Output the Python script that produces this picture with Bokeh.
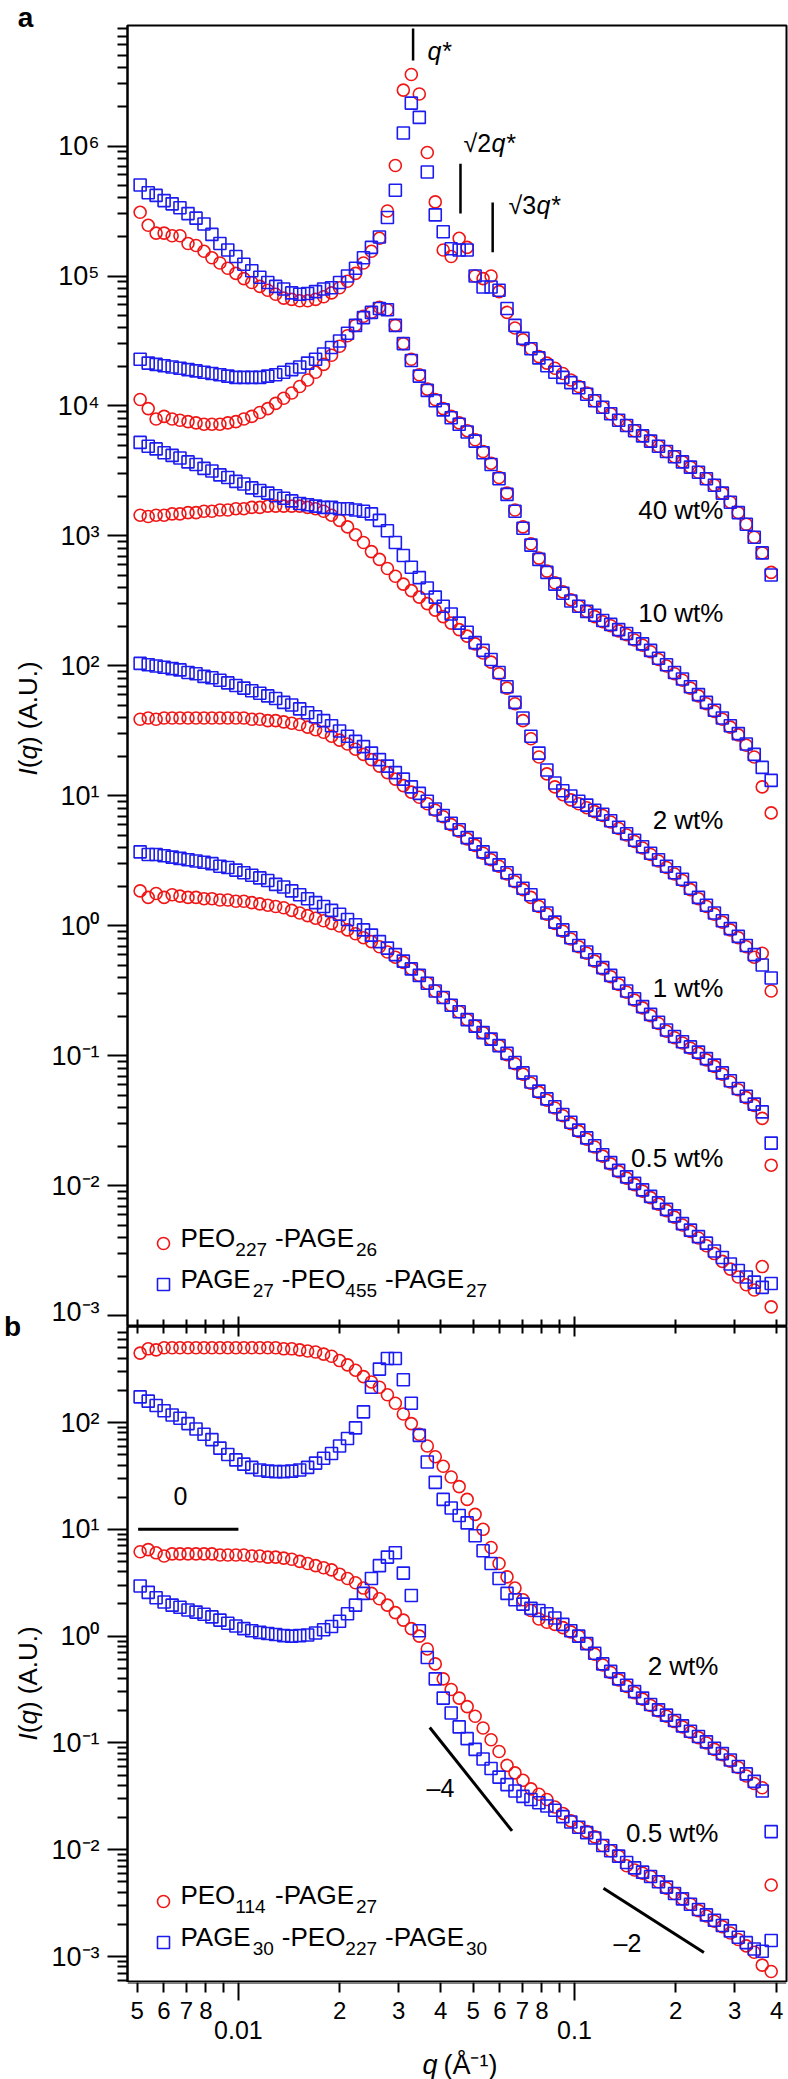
import math
from bokeh.plotting import figure
from bokeh.layouts import column, row
from bokeh.models import (FixedTicker, LogAxis, Legend, LegendItem, Label, Range1d,
                          ColumnDataSource, CustomJSTickFormatter)
from bokeh.core.properties import value
from bokeh.embed import file_html
from bokeh.resources import INLINE

q = [0.00510, 0.00539, 0.00569, 0.00601, 0.00635, 0.00670, 0.00708, 0.00748, 0.00790, 0.00834,
     0.00881, 0.00930, 0.00983, 0.01038, 0.01096, 0.01158, 0.01223, 0.01291, 0.01364, 0.01441,
     0.01522, 0.01607, 0.01697, 0.01793, 0.01893, 0.02000, 0.02112, 0.02231, 0.02356, 0.02488,
     0.02628, 0.02776, 0.02931, 0.03096, 0.03270, 0.03454, 0.03648, 0.03853, 0.04069, 0.04297,
     0.04539, 0.04794, 0.05063, 0.05347, 0.05648, 0.05965, 0.06300, 0.06654, 0.07028, 0.07422,
     0.07839, 0.08280, 0.08745, 0.09236, 0.09755, 0.1030, 0.1088, 0.1149, 0.1214, 0.1282,
     0.1354, 0.1430, 0.1510, 0.1595, 0.1685, 0.1779, 0.1879, 0.1985, 0.2096, 0.2214,
     0.2339, 0.2470, 0.2609, 0.2755, 0.2910, 0.3073, 0.3246, 0.3428, 0.3621, 0.3850]

# panel a : PEO227-PAGE26 (red) and PAGE27-PEO455-PAGE27 (blue)
a40_red = [5.49, 5.39, 5.33, 5.33, 5.31, 5.31, 5.25, 5.235, 5.19, 5.14,
           5.10, 5.06, 5.02, 4.98, 4.95, 4.92, 4.89, 4.86, 4.83, 4.82,
           4.81, 4.81, 4.82, 4.84, 4.87, 4.91, 4.96, 5.02, 5.10, 5.19,
           5.29, 5.50, 5.85, 6.43, 6.55, 6.40, 5.95, 5.57, 5.20, 5.15,
           5.29, 5.22, 5.00, 4.98, 5.00, 4.88, 4.72, 4.60, 4.51, 4.44,
           4.38, 4.33, 4.29, 4.25, 4.20, 4.15, 4.10, 4.04, 3.99, 3.94,
           3.89, 3.85, 3.81, 3.77, 3.73, 3.69, 3.65, 3.61, 3.57, 3.53,
           3.49, 3.44, 3.39, 3.33, 3.26, 3.18, 3.09, 2.99, 2.87, 2.72]
a40_blue = [5.70, 5.64, 5.62, 5.58, 5.555, 5.525, 5.48, 5.445, 5.40, 5.32,
            5.25, 5.20, 5.15, 5.09, 5.04, 4.99, 4.95, 4.92, 4.90, 4.87,
            4.86, 4.865, 4.88, 4.90, 4.91, 4.95, 5.00, 5.06, 5.14, 5.22,
            5.30, 5.45, 5.66, 6.10, 6.33, 6.22, 5.80, 5.47, 5.34, 5.21,
            5.20, 5.20, 5.00, 4.915, 4.915, 4.89, 4.75, 4.62, 4.52, 4.44,
            4.37, 4.31, 4.26, 4.22, 4.18, 4.14, 4.09, 4.04, 3.99, 3.94,
            3.89, 3.85, 3.81, 3.77, 3.73, 3.69, 3.65, 3.61, 3.57, 3.53,
            3.49, 3.44, 3.39, 3.33, 3.26, 3.18, 3.09, 2.99, 2.87, 2.70]
a10_red = [4.05, 3.98, 3.90, 3.92, 3.90, 3.89, 3.88, 3.87, 3.86, 3.86,
           3.86, 3.87, 3.88, 3.90, 3.92, 3.95, 3.98, 4.02, 4.06, 4.10,
           4.15, 4.20, 4.26, 4.32, 4.39, 4.46, 4.54, 4.62, 4.69, 4.72,
           4.76, 4.74, 4.62, 4.48, 4.36, 4.24, 4.13, 4.05, 3.98, 3.92,
           3.87, 3.81, 3.74, 3.65, 3.56, 3.45, 3.33, 3.20, 3.07, 2.94,
           2.83, 2.73, 2.64, 2.57, 2.51, 2.46, 2.42, 2.38, 2.34, 2.31,
           2.27, 2.24, 2.20, 2.16, 2.11, 2.05, 2.00, 1.94, 1.89, 1.83,
           1.77, 1.71, 1.65, 1.59, 1.53, 1.47, 1.39, 1.30, 1.07, 0.87]
a10_blue = [4.36, 4.33, 4.32, 4.31, 4.30, 4.29, 4.28, 4.27, 4.26, 4.25,
            4.24, 4.23, 4.22, 4.22, 4.22, 4.22, 4.23, 4.24, 4.26, 4.28,
            4.30, 4.33, 4.36, 4.40, 4.45, 4.50, 4.56, 4.62, 4.68, 4.72,
            4.75, 4.74, 4.62, 4.48, 4.35, 4.23, 4.12, 4.04, 3.97, 3.91,
            3.86, 3.80, 3.73, 3.64, 3.55, 3.44, 3.32, 3.19, 3.06, 2.93,
            2.82, 2.72, 2.63, 2.56, 2.50, 2.46, 2.42, 2.39, 2.35, 2.32,
            2.28, 2.25, 2.21, 2.17, 2.12, 2.06, 2.01, 1.95, 1.90, 1.84,
            1.78, 1.72, 1.66, 1.60, 1.54, 1.48, 1.40, 1.32, 1.22, 1.12]
a2_red = [3.16, 3.15, 3.16, 3.16, 3.17, 3.17, 3.18, 3.18, 3.19, 3.19,
          3.20, 3.20, 3.21, 3.21, 3.22, 3.22, 3.23, 3.23, 3.23, 3.23,
          3.23, 3.22, 3.21, 3.19, 3.16, 3.12, 3.07, 3.01, 2.95, 2.88,
          2.82, 2.75, 2.69, 2.63, 2.58, 2.53, 2.48, 2.43, 2.38, 2.33,
          2.28, 2.23, 2.17, 2.10, 2.03, 1.94, 1.83, 1.71, 1.58, 1.44,
          1.30, 1.17, 1.07, 1.01, 0.97, 0.94, 0.91, 0.88, 0.85, 0.80,
          0.75, 0.70, 0.65, 0.60, 0.55, 0.50, 0.45, 0.40, 0.35, 0.28,
          0.21, 0.15, 0.09, 0.03, -0.03, -0.09, -0.16, -0.24, -0.21, -0.50]
a2_blue = [3.72, 3.69, 3.67, 3.64, 3.62, 3.60, 3.57, 3.55, 3.52, 3.50,
           3.47, 3.45, 3.42, 3.40, 3.37, 3.35, 3.33, 3.31, 3.29, 3.27,
           3.25, 3.24, 3.23, 3.22, 3.22, 3.21, 3.21, 3.20, 3.19, 3.17,
           3.12, 3.04, 2.95, 2.85, 2.76, 2.68, 2.60, 2.53, 2.46, 2.40,
           2.33, 2.26, 2.18, 2.12, 2.05, 1.95, 1.84, 1.72, 1.60, 1.46,
           1.33, 1.20, 1.10, 1.04, 1.00, 0.96, 0.93, 0.89, 0.86, 0.81,
           0.76, 0.71, 0.66, 0.61, 0.56, 0.51, 0.46, 0.41, 0.36, 0.29,
           0.22, 0.16, 0.10, 0.04, -0.02, -0.08, -0.15, -0.22, -0.30, -0.40]
a1_red = [1.59, 1.60, 1.59, 1.60, 1.60, 1.60, 1.60, 1.60, 1.60, 1.60,
          1.60, 1.60, 1.60, 1.60, 1.59, 1.59, 1.58, 1.58, 1.57, 1.56,
          1.55, 1.53, 1.51, 1.49, 1.46, 1.43, 1.40, 1.36, 1.32, 1.28,
          1.23, 1.18, 1.13, 1.08, 1.03, 0.99, 0.94, 0.89, 0.84, 0.78,
          0.73, 0.67, 0.62, 0.56, 0.51, 0.46, 0.40, 0.34, 0.28, 0.22,
          0.15, 0.09, 0.02, -0.04, -0.10, -0.16, -0.21, -0.27, -0.33, -0.39,
          -0.45, -0.51, -0.57, -0.63, -0.69, -0.75, -0.81, -0.86, -0.90, -0.94,
          -0.98, -1.03, -1.08, -1.14, -1.20, -1.26, -1.32, -1.38, -1.48, -1.84]
a1_blue = [2.02, 2.01, 2.00, 1.99, 1.98, 1.97, 1.95, 1.94, 1.92, 1.91,
           1.89, 1.87, 1.85, 1.83, 1.81, 1.79, 1.77, 1.75, 1.72, 1.70,
           1.67, 1.64, 1.61, 1.58, 1.54, 1.50, 1.46, 1.42, 1.38, 1.33,
           1.28, 1.23, 1.18, 1.13, 1.07, 1.02, 0.96, 0.90, 0.85, 0.79,
           0.74, 0.68, 0.63, 0.57, 0.52, 0.47, 0.41, 0.35, 0.29, 0.24,
           0.16, 0.10, 0.03, -0.03, -0.09, -0.15, -0.20, -0.26, -0.32, -0.38,
           -0.44, -0.50, -0.56, -0.62, -0.68, -0.74, -0.80, -0.85, -0.89, -0.93,
           -0.97, -1.02, -1.07, -1.13, -1.19, -1.25, -1.31, -1.37, -1.43, -1.67]
a05_red = [0.27, 0.22, 0.25, 0.22, 0.24, 0.23, 0.22, 0.22, 0.21, 0.21,
           0.20, 0.20, 0.19, 0.19, 0.18, 0.17, 0.16, 0.15, 0.14, 0.12,
           0.10, 0.08, 0.06, 0.04, 0.02, 0.00, -0.03, -0.06, -0.09, -0.12,
           -0.16, -0.20, -0.24, -0.28, -0.33, -0.38, -0.44, -0.50, -0.55, -0.61,
           -0.66, -0.72, -0.77, -0.82, -0.87, -0.92, -0.99, -1.06, -1.14, -1.21,
           -1.28, -1.34, -1.40, -1.46, -1.52, -1.58, -1.64, -1.70, -1.77, -1.83,
           -1.89, -1.94, -1.99, -2.04, -2.09, -2.14, -2.19, -2.24, -2.30, -2.35,
           -2.40, -2.46, -2.52, -2.58, -2.64, -2.70, -2.76, -2.80, -2.62, -2.93]
a05_blue = [0.57, 0.55, 0.55, 0.54, 0.53, 0.52, 0.51, 0.50, 0.49, 0.48,
            0.46, 0.45, 0.43, 0.41, 0.39, 0.37, 0.35, 0.32, 0.30, 0.27,
            0.24, 0.21, 0.18, 0.15, 0.12, 0.09, 0.05, 0.01, -0.03, -0.07,
            -0.12, -0.17, -0.22, -0.27, -0.33, -0.38, -0.44, -0.50, -0.55, -0.61,
            -0.66, -0.72, -0.77, -0.82, -0.87, -0.92, -0.98, -1.05, -1.13, -1.20,
            -1.27, -1.33, -1.39, -1.45, -1.51, -1.57, -1.63, -1.69, -1.76, -1.82,
            -1.88, -1.93, -1.98, -2.03, -2.08, -2.13, -2.18, -2.23, -2.29, -2.34,
            -2.39, -2.44, -2.50, -2.55, -2.60, -2.65, -2.70, -2.74, -2.78, -2.75]

# panel b : PEO114-PAGE27 (red) and PAGE30-PEO227-PAGE30 (blue)
b2_red = [2.65, 2.69, 2.68, 2.70, 2.70, 2.70, 2.70, 2.70, 2.70, 2.70,
          2.70, 2.70, 2.70, 2.70, 2.70, 2.70, 2.70, 2.70, 2.69, 2.69,
          2.68, 2.67, 2.66, 2.64, 2.62, 2.58, 2.54, 2.49, 2.43, 2.38,
          2.33, 2.26, 2.18, 2.08, 1.99, 1.89, 1.78, 1.68, 1.59, 1.49,
          1.40, 1.28, 1.14, 1.00, 0.83, 0.68, 0.555, 0.45, 0.34, 0.24,
          0.16, 0.13, 0.11, 0.08, 0.04, 0.00, -0.07, -0.17, -0.27, -0.34,
          -0.41, -0.47, -0.53, -0.59, -0.65, -0.70, -0.75, -0.80, -0.85, -0.90,
          -0.95, -1.00, -1.06, -1.11, -1.17, -1.23, -1.31, -1.38, -1.42, -2.33]
b2_blue = [2.24, 2.20, 2.16, 2.11, 2.07, 2.04, 1.99, 1.94, 1.89, 1.84,
           1.76, 1.70, 1.65, 1.61, 1.58, 1.555, 1.545, 1.54, 1.54, 1.545,
           1.555, 1.58, 1.62, 1.665, 1.71, 1.78, 1.85, 1.95, 2.10, 2.33,
           2.50, 2.60, 2.60, 2.40, 2.18, 1.88, 1.63, 1.44, 1.28, 1.20,
           1.13, 1.06, 0.94, 0.80, 0.68, 0.54, 0.40, 0.34, 0.30, 0.26,
           0.24, 0.21, 0.17, 0.11, 0.05, 0.00, -0.07, -0.16, -0.26, -0.33,
           -0.40, -0.46, -0.52, -0.58, -0.64, -0.69, -0.74, -0.79, -0.84, -0.89,
           -0.94, -0.99, -1.05, -1.10, -1.16, -1.22, -1.29, -1.36, -1.45, -1.83]
b05_red = [0.79, 0.81, 0.78, 0.75, 0.77, 0.77, 0.77, 0.77, 0.77, 0.77,
           0.76, 0.76, 0.76, 0.76, 0.75, 0.75, 0.74, 0.74, 0.73, 0.72,
           0.70, 0.68, 0.66, 0.64, 0.62, 0.58, 0.54, 0.50, 0.45, 0.40,
           0.35, 0.29, 0.22, 0.15, 0.07, 0.00, -0.12, -0.26, -0.40, -0.50,
           -0.58, -0.66, -0.75, -0.86, -0.97, -1.08, -1.21, -1.28, -1.35, -1.43,
           -1.48, -1.53, -1.60, -1.66, -1.73, -1.79, -1.83, -1.88, -1.96, -2.01,
           -2.06, -2.15, -2.19, -2.22, -2.25, -2.30, -2.36, -2.41, -2.46, -2.51,
           -2.57, -2.62, -2.67, -2.72, -2.78, -2.84, -2.90, -2.96, -3.08, -3.14]
b05_blue = [0.47, 0.41, 0.36, 0.32, 0.29, 0.27, 0.245, 0.225, 0.205, 0.18,
            0.15, 0.12, 0.095, 0.07, 0.05, 0.035, 0.025, 0.015, 0.005, 0.00,
            0.005, 0.01, 0.03, 0.06, 0.09, 0.14, 0.21, 0.29, 0.40, 0.54,
            0.66, 0.74, 0.78, 0.59, 0.38, 0.05, -0.20, -0.40, -0.58, -0.72,
            -0.85, -0.96, -1.06, -1.15, -1.24, -1.32, -1.39, -1.45, -1.50, -1.53,
            -1.56, -1.59, -1.63, -1.69, -1.74, -1.79, -1.84, -1.89, -1.96, -2.01,
            -2.06, -2.12, -2.17, -2.21, -2.25, -2.30, -2.35, -2.41, -2.46, -2.51,
            -2.56, -2.61, -2.66, -2.71, -2.76, -2.82, -2.87, -2.93, -2.95, -2.85]

# tick values / labels
x_digit_ticks = [0.005, 0.006, 0.007, 0.008, 0.02, 0.03, 0.04, 0.05, 0.06, 0.07, 0.08, 0.2, 0.3, 0.4]
x_digit_labels = ["5", "6", "7", "8", "2", "3", "4", "5", "6", "7", "8", "2", "3", "4"]
x_decade_ticks = [0.01, 0.1]
x_decade_labels = ["0.01", "0.1"]
x_nine_ticks = [0.009, 0.09]
a_y_major = [1e-3, 1e-2, 1e-1, 1e0, 1e1, 1e2, 1e3, 1e4, 1e5, 1e6]
b_y_major = [1e-3, 1e-2, 1e-1, 1e0, 1e1, 1e2]

# legend texts: (text, is_subscript); " " = word gap
legend_a = [[("PEO", 0), ("227", 1), (" ", 0), ("-PAGE", 0), ("26", 1)],
            [("PAGE", 0), ("27", 1), (" ", 0), ("-PEO", 0), ("455", 1), (" ", 0), ("-PAGE", 0), ("27", 1)]]
legend_b = [[("PEO", 0), ("114", 1), (" ", 0), ("-PAGE", 0), ("27", 1)],
            [("PAGE", 0), ("30", 1), (" ", 0), ("-PEO", 0), ("227", 1), (" ", 0), ("-PAGE", 0), ("30", 1)]]
a_conc = ["40 wt%", "10 wt%", "2 wt%", "1 wt%", "0.5 wt%"]
b_conc = ["2 wt%", "0.5 wt%"]

# guide marks
peak_q = [0.0331, 0.0458, 0.0571]
peak_lo = [4.55e6, 3.03e5, 1.52e5]
peak_hi = [8.0e6, 7.3e5, 3.67e5]
slope0_q, slope0_I = [0.00503, 0.0100], [10.0, 10.0]
slope4_q, slope4_I = [0.0371, 0.0652], [0.1396, 0.01503]
slope2_q, slope2_I = [0.1220, 0.2428], [4.37e-3, 1.09e-3]

# ---------------- styling / layout ----------------
FONT = "Liberation Sans"
RED = "#f01616"
BLUE = "#1c1cf0"
STRIP_W = 48
MAIN_W = 788 - STRIP_W
X_RANGE = (0.004677, 0.4276)
A_YR = (10 ** -3.081, 10 ** 6.927)
B_YR = (10 ** -3.243, 10 ** 2.899)


# page-pixel -> data helpers for annotation placement
def qx(px):
    return 10 ** (-2 + (px - 238) / 336)


def ya(py):
    return 10 ** (6 - (py - 145.5) / 130)


def yb(py):
    return 10 ** (-(py - 1636) / 106.8)


WIDTHS = {'P': .667, 'E': .667, 'O': .778, 'A': .667, 'G': .778, ' ': .278, '-': .333}


def text_w(s, size):
    return sum(WIDTHS.get(c, .556) for c in s) * size


SUP_JS = """
const m = {'-': '\u207b', '0': '\u2070', '1': '\u00b9', '2': '\u00b2', '3': '\u00b3', '4': '\u2074',
           '5': '\u2075', '6': '\u2076', '7': '\u2077', '8': '\u2078', '9': '\u2079'};
const e = Math.round(Math.log10(tick));
let s = '';
for (const c of String(e)) { s += m[c]; }
return '10' + s;
"""
BLANK_JS = "return '';"


def make_panel(height, yr, top, bottom):
    p = figure(width=MAIN_W, height=height, x_axis_type="log", y_axis_type="log",
               x_range=Range1d(*X_RANGE), y_range=Range1d(*yr),
               x_axis_location=None, y_axis_location=None,
               output_backend="svg", toolbar_location=None,
               min_border_left=127 - STRIP_W, min_border_right=2,
               min_border_top=top, min_border_bottom=bottom)
    p.grid.visible = False
    p.outline_line_color = "black"
    p.outline_line_width = 2
    p.outline_line_alpha = 1.0
    p.background_fill_color = "white"
    p.border_fill_color = "white"
    return p


def style_axis(ax):
    ax.axis_line_width = 2
    ax.axis_line_color = "black"
    ax.major_tick_line_width = 2
    ax.minor_tick_line_width = 2
    ax.major_tick_line_color = "black"
    ax.minor_tick_line_color = "black"
    ax.major_label_text_font = FONT
    ax.major_label_text_color = "black"


def left_axis(p, majors, minors):
    ax = LogAxis(ticker=FixedTicker(ticks=majors, minor_ticks=minors),
                 formatter=CustomJSTickFormatter(code=SUP_JS))
    style_axis(ax)
    ax.major_tick_out = 20
    ax.major_tick_in = 0
    ax.minor_tick_out = 10
    ax.minor_tick_in = 0
    ax.major_label_standoff = 8
    ax.major_label_text_font_size = "27px"
    p.add_layout(ax, "left")


def inner_ticks(p, side, loc, tin_major=10, tin_minor=7):
    minors = x_digit_ticks + x_nine_ticks
    ax = LogAxis(ticker=FixedTicker(ticks=x_decade_ticks, minor_ticks=minors),
                 formatter=CustomJSTickFormatter(code=BLANK_JS), fixed_location=loc)
    style_axis(ax)
    ax.major_label_text_font_size = "0px"
    ax.major_tick_in = tin_major
    ax.major_tick_out = 0
    ax.minor_tick_in = tin_minor
    ax.minor_tick_out = 0
    p.add_layout(ax, side)
    return ax


def txt(p, x, y, s, size=24, style="normal", align="left", baseline="middle"):
    p.add_layout(Label(x=x, y=y, text=s, text_font=FONT, text_font_size=f"{size}px",
                       text_font_style=style, text_align=align, text_baseline=baseline,
                       text_color="black"))


def rich(p, yconv, x_page, y_page, pieces, size=26, sub=19, drop=11, gap=8):
    off = 0.0
    for s, is_sub in pieces:
        if s == " ":
            off += gap
            continue
        fs = sub if is_sub else size
        txt(p, qx(x_page + off), yconv(y_page + (drop if is_sub else 0)), s, size=fs)
        off += text_w(s, fs)


def add_series(p, reds, blues):
    rr, br = [], []
    for arr in reds:
        src = ColumnDataSource(dict(q=q, I=[10 ** v for v in arr]))
        rr.append(p.scatter("q", "I", source=src, marker="circle", size=12,
                            fill_color=None, line_color=RED, line_width=1.6))
    for arr in blues:
        src = ColumnDataSource(dict(q=q, I=[10 ** v for v in arr]))
        br.append(p.scatter("q", "I", source=src, marker="square", size=12,
                            fill_color=None, line_color=BLUE, line_width=1.6))
    return rr, br


def add_legend(p, rr, br, loc):
    leg = Legend(items=[LegendItem(label=value(""), renderers=[rr]),
                        LegendItem(label=value(""), renderers=[br])],
                 location=loc, orientation="vertical", border_line_color=None,
                 background_fill_alpha=0, glyph_width=30, glyph_height=30,
                 label_height=30, label_width=0, label_standoff=0, padding=5, spacing=11, margin=0,
                 label_text_font=FONT, label_text_font_size="24px")
    p.add_layout(leg)


# ---------------- panel a ----------------
pa = make_panel(1326, A_YR, 25, 0)
a_minor = [m * 10.0 ** e for e in range(-3, 7) for m in range(2, 10)]
left_axis(pa, a_y_major, a_minor)
inner_ticks(pa, "below", A_YR[0])
ra, ba = add_series(pa, [a40_red, a10_red, a2_red, a1_red, a05_red],
                    [a40_blue, a10_blue, a2_blue, a1_blue, a05_blue])
add_legend(pa, ra[0], ba[0], (21, 27))
rich(pa, ya, 180, 1238, legend_a[0])
rich(pa, ya, 180, 1279, legend_a[1])

pa.segment(x0=peak_q, y0=peak_lo, x1=peak_q, y1=peak_hi, line_color="black", line_width=2.5)
txt(pa, qx(427), ya(50), "q*", size=25, style="italic")
txt(pa, qx(463), ya(142), "√2", size=25)
txt(pa, qx(491), ya(142), "q*", size=25, style="italic")
txt(pa, qx(508), ya(204), "√3", size=25)
txt(pa, qx(536), ya(204), "q*", size=25, style="italic")

a_conc_y = [510, 613, 820, 988, 1158]
for s, yv in zip(a_conc, a_conc_y):
    txt(pa, qx(723), ya(yv), s, size=26, align="right")

# ---------------- panel b ----------------
pb = make_panel(656, B_YR, 0, 0)
b_minor = [m * 10.0 ** e for e in range(-4, 3) for m in range(2, 10) if m * 10.0 ** e >= 6e-4]
left_axis(pb, b_y_major, b_minor)
inner_ticks(pb, "above", B_YR[1])

rb, bb = add_series(pb, [b2_red, b05_red], [b2_blue, b05_blue])
add_legend(pb, rb[0], bb[0], (21, 25))
rich(pb, yb, 180, 1895, legend_b[0])
rich(pb, yb, 180, 1937, legend_b[1])

pb.line(slope0_q, slope0_I, line_color="black", line_width=3)
pb.line(slope4_q, slope4_I, line_color="black", line_width=3)
pb.line(slope2_q, slope2_I, line_color="black", line_width=3)
txt(pb, qx(180), yb(1496), "0", size=25, align="center")
txt(pb, qx(440), yb(1788), "–4", size=25, align="center")
txt(pb, qx(627), yb(1943), "–2", size=25, align="center")

b_conc_y = [1666, 1833]
for s, yv in zip(b_conc, b_conc_y):
    txt(pb, qx(718), yb(yv), s, size=26, align="right")

# ---------------- bottom strip: x ticks, tick labels and x title ----------------
bot = figure(width=MAIN_W, height=97, x_axis_type="log", x_range=Range1d(*X_RANGE),
             y_range=Range1d(2079, 1982), x_axis_location=None, y_axis_location=None,
             output_backend="svg", toolbar_location=None,
             min_border_left=127 - STRIP_W, min_border_right=2, min_border_top=0, min_border_bottom=0)
bot.grid.visible = False
bot.outline_line_color = None
bot.border_fill_color = "white"
bot.background_fill_color = "white"
inner_ticks(bot, "above", 1982, tin_major=18, tin_minor=10)

digit_src = ColumnDataSource(dict(x=x_digit_ticks, y=[2010] * len(x_digit_ticks), t=x_digit_labels))
bot.text("x", "y", text="t", source=digit_src, text_font=value(FONT), text_font_size="24px",
         text_align="center", text_baseline="middle", text_color="black")
dec_src = ColumnDataSource(dict(x=x_decade_ticks, y=[2029] * 2, t=x_decade_labels))
bot.text("x", "y", text="t", source=dec_src, text_font=value(FONT), text_font_size="25px",
         text_align="center", text_baseline="middle", text_color="black")
xt_it = ColumnDataSource(dict(x=[qx(422)], y=[2064], t=["q"]))
bot.text("x", "y", text="t", source=xt_it, text_font=value(FONT), text_font_size="27px",
         text_font_style="italic", text_align="left", text_baseline="middle", text_color="black")
xt_rm = ColumnDataSource(dict(x=[qx(443)], y=[2064], t=["(Å⁻¹)"]))
bot.text("x", "y", text="t", source=xt_rm, text_font=value(FONT), text_font_size="27px",
         text_align="left", text_baseline="middle", text_color="black")

# ---------------- left strip: panel letters and y-axis titles ----------------
strip = figure(width=STRIP_W, height=2079, x_range=Range1d(0, STRIP_W), y_range=Range1d(2079, 0),
               output_backend="svg", toolbar_location=None, min_border=0,
               x_axis_location=None, y_axis_location=None)
strip.grid.visible = False
strip.outline_line_color = None
strip.border_fill_color = "white"
strip.background_fill_color = "white"

letters = ColumnDataSource(dict(x=[25, 12], y=[17, 1326], t=["a", "b"]))
strip.text("x", "y", text="t", source=letters, text_font=value(FONT), text_font_size="28px",
           text_font_style="bold", text_align="center", text_baseline="middle", text_color="black")

ylab_bottom = [775, 1740]
ylab_pieces = [("I", "italic", 0.0), ("(", "normal", 7.2), ("q", "italic", 15.9), (") (A.U.)", "normal", 30.4)]
for style in ("italic", "normal"):
    xs, ys, ts = [], [], []
    for yb0 in ylab_bottom:
        for s, st, off in ylab_pieces:
            if st == style:
                xs.append(27)
                ys.append(yb0 - off)
                ts.append(s)
    src = ColumnDataSource(dict(x=xs, y=ys, t=ts))
    strip.text("x", "y", text="t", source=src, angle=math.pi / 2, text_font=value(FONT),
               text_font_size="26px", text_font_style=style, text_align="left",
               text_baseline="middle", text_color="black")

layout = row(strip, column(pa, pb, bot, spacing=0), spacing=0)
open("out.html", "w").write(file_html(layout, INLINE))
